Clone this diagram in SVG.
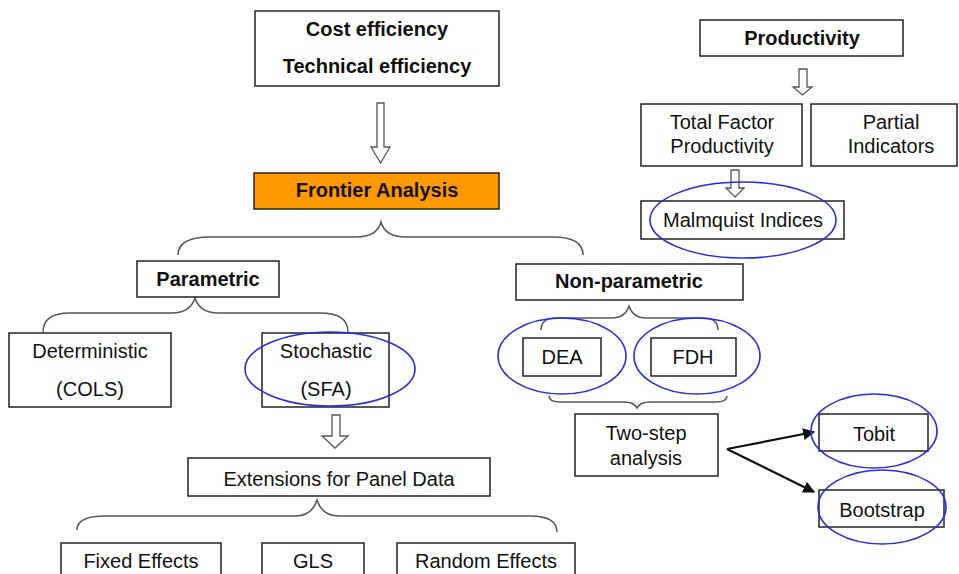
<svg xmlns="http://www.w3.org/2000/svg" width="959" height="574" viewBox="0 0 959 574">
<defs>
<style>
.box{fill:#fff;stroke:#222;stroke-width:1.5}
.t{font-family:"Liberation Sans",Arial,sans-serif;font-size:20px;fill:#111;text-anchor:middle}
.b{font-weight:bold}
.ell{fill:none;stroke:#2a2ae6;stroke-width:1.6}
.brace{fill:none;stroke:#555;stroke-width:1.5}
.hollow{fill:#fff;stroke:#555;stroke-width:1.3}
.arr{fill:none;stroke:#111;stroke-width:2.2}
</style>
<marker id="ah" viewBox="0 0 10 10" refX="9" refY="5" markerWidth="5.5" markerHeight="5.5" orient="auto" markerUnits="strokeWidth">
<path d="M0,0 L10,5 L0,10 z" fill="#111"/>
</marker>
</defs>
<rect width="959" height="574" fill="#fff"/>

<g id="connectors">
<path class="hollow" d="M377,103 H384 V147 H390 L380.5,163 L371,147 H377 Z"/>
<path class="hollow" d="M799,69 H807 V87 H812 L802.5,95 L793,87 H799 Z"/>
<path class="hollow" d="M731,170 H739 V188 H744 L735,197 L726,188 H731 Z"/>
<path class="hollow" d="M332,415 H340 V436 H348 L335,448 L322,436 H332 Z"/>
<path class="brace" d="M178,255 Q178,237 210,237 L356,237 Q377,237 381,222 Q385,237 406,237 L553,237 Q583,237 583,255"/>
<path class="brace" d="M43,332 Q43,313 70,313 L172,313 Q190,313 195,298 Q200,313 218,313 L320,313 Q348,313 348,332"/>
<path class="brace" d="M541,330 Q541,318 556,318 L612,318 Q625,318 629,306 Q633,318 646,318 L703,318 Q718,318 718,330"/>
<path class="brace" d="M549,396 Q549,402 560,402 L624,402 Q634,402 637,408 Q640,402 650,402 L716,402 Q727,402 727,396"/>
<path class="brace" d="M77,530 Q77,516 105,516 L295,516 Q312,516 317,500 Q322,516 339,516 L530,516 Q557,516 557,532"/>
<path class="arr" d="M727,449 L814,432" marker-end="url(#ah)"/>
<path class="arr" d="M727,449 L814,492" marker-end="url(#ah)"/>
</g>

<g id="efficiency">
<rect class="box" x="255" y="11" width="244" height="75"/>
<text class="t b" x="377" y="36">Cost efficiency</text>
<text class="t b" x="377" y="73">Technical efficiency</text>
</g>
<g id="frontier">
<rect x="254" y="173" width="245" height="36" fill="#ff9900" stroke="#222" stroke-width="1.5"/>
<text class="t b" x="377" y="197">Frontier Analysis</text>
</g>
<g id="parametric">
<rect class="box" x="137" y="261" width="142" height="36"/>
<text class="t b" x="208" y="286">Parametric</text>
</g>
<g id="nonparametric">
<rect class="box" x="516" y="264" width="227" height="36"/>
<text class="t b" x="629" y="288">Non-parametric</text>
</g>
<g id="deterministic">
<rect class="box" x="9" y="333" width="162" height="74"/>
<text class="t" x="90" y="358">Deterministic</text>
<text class="t" x="90" y="396">(COLS)</text>
</g>
<g id="stochastic">
<rect class="box" x="262" y="333" width="127" height="74"/>
<text class="t" x="326" y="358">Stochastic</text>
<text class="t" x="326" y="396">(SFA)</text>
<ellipse class="ell" cx="330" cy="369" rx="85" ry="37"/>
</g>
<g id="extensions">
<rect class="box" x="188" y="458" width="302" height="38"/>
<text class="t" x="339" y="486">Extensions for Panel Data</text>
</g>
<g id="fixed">
<rect class="box" x="61" y="543" width="160" height="40"/>
<text class="t" x="141" y="568">Fixed Effects</text>
</g>
<g id="gls">
<rect class="box" x="262" y="543" width="102" height="40"/>
<text class="t" x="313" y="568">GLS</text>
</g>
<g id="random">
<rect class="box" x="397" y="543" width="178" height="40"/>
<text class="t" x="486" y="568">Random Effects</text>
</g>
<g id="dea">
<rect class="box" x="523" y="338" width="78" height="38"/>
<text class="t" x="562" y="364">DEA</text>
<ellipse class="ell" cx="562" cy="356" rx="64" ry="38"/>
</g>
<g id="fdh">
<rect class="box" x="651" y="338" width="85" height="38"/>
<text class="t" x="693" y="364">FDH</text>
<ellipse class="ell" cx="697" cy="356" rx="63" ry="38"/>
</g>
<g id="twostep">
<rect class="box" x="575" y="414" width="143" height="62"/>
<text class="t" x="646" y="440">Two-step</text>
<text class="t" x="646" y="465">analysis</text>
</g>
<g id="tobit">
<rect class="box" x="819" y="414" width="109" height="37"/>
<text class="t" x="874" y="441">Tobit</text>
<ellipse class="ell" cx="874" cy="431" rx="63" ry="37"/>
</g>
<g id="bootstrap">
<rect class="box" x="819" y="490" width="125" height="37"/>
<text class="t" x="882" y="517">Bootstrap</text>
<ellipse class="ell" cx="882" cy="507" rx="64" ry="37"/>
</g>
<g id="productivity">
<rect class="box" x="700" y="20" width="203" height="36"/>
<text class="t b" x="802" y="45">Productivity</text>
</g>
<g id="tfp">
<rect class="box" x="641" y="104" width="161" height="62"/>
<text class="t" x="722" y="129">Total Factor</text>
<text class="t" x="722" y="153">Productivity</text>
</g>
<g id="partial">
<rect class="box" x="811" y="104" width="146" height="62"/>
<text class="t" x="891" y="129">Partial</text>
<text class="t" x="891" y="153">Indicators</text>
</g>
<g id="malmquist">
<rect class="box" x="641" y="201" width="203" height="38"/>
<text class="t" x="743" y="227">Malmquist Indices</text>
<ellipse class="ell" cx="743" cy="220" rx="93" ry="38"/>
</g>
</svg>
